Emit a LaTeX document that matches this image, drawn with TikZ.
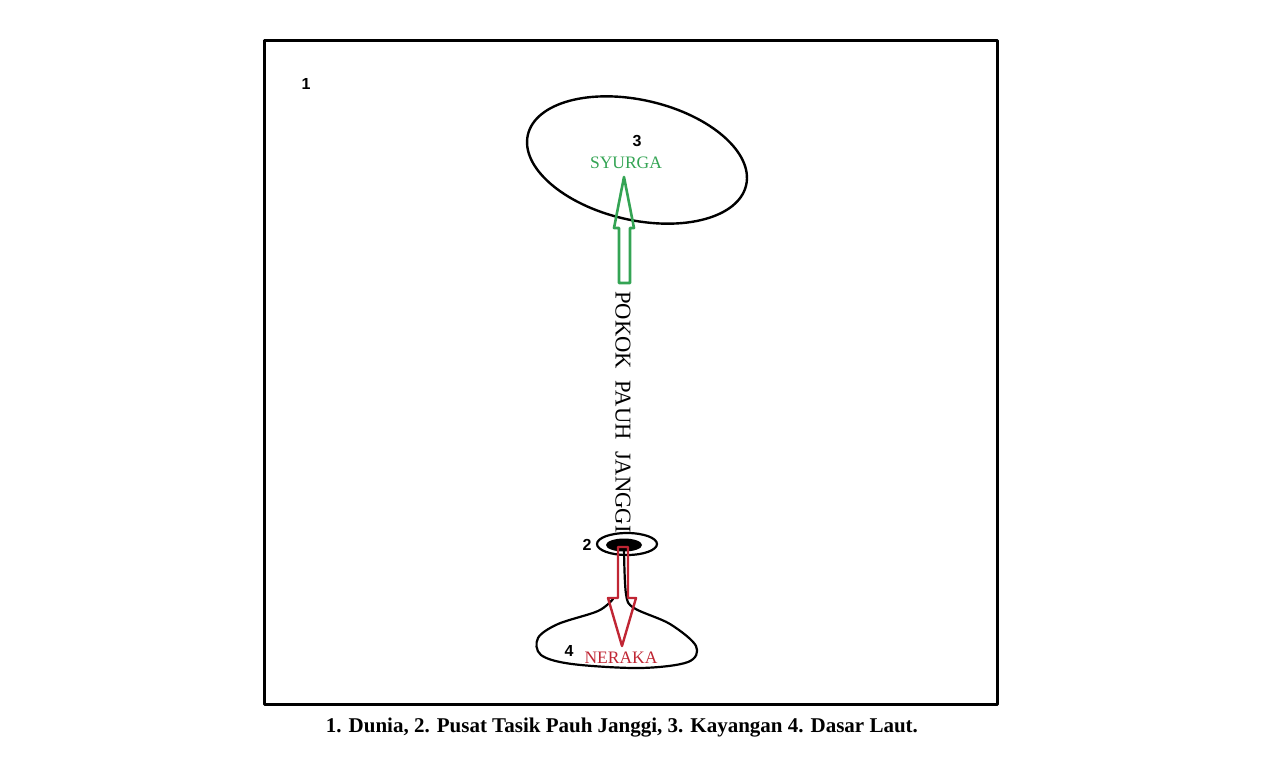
\documentclass[tikz,border=0pt]{standalone}
\usepackage{fontspec}
\setmainfont{Liberation Serif}
\newfontfamily\numfont{Liberation Sans}
\definecolor{syurgagreen}{RGB}{52,164,84}
\definecolor{nerakared}{RGB}{192,38,52}
\begin{document}
\begin{tikzpicture}[x=1pt,y=-1pt,line join=round,line cap=round,
	num/.style={font=\numfont\bfseries\fontsize{16}{18}\selectfont},
	lbl/.style={font=\fontsize{17.5}{20}\selectfont}]
	\useasboundingbox (0,0) rectangle (1274,772);
	\draw[line width=3] (264,40) rectangle (997,704);
	% kayangan, pusat tasik, dasar laut
	\draw[line width=2.4,rotate around={-13:(637,160)}] (637,160) ellipse [x radius=112,y radius=60];
	\draw[line width=2.2] (627,544) ellipse [x radius=30,y radius=11];
	\fill (624,545) ellipse [x radius=18,y radius=6.5];
	\draw[line width=2.2,smooth,tension=0.55] plot coordinates {(624,550) (626,594) (634,608) (670,624) (696,646) (688,662) (640,668) (572,664) (541,655) (538,638) (558,624) (598,611) (613,599)};
	% anak panah
	\draw[syurgagreen,line width=2.6] (624,177)--(634,228)--(630,228)--(630,283)--(619,283)--(619,228)--(614,228)--cycle;
	\draw[nerakared,line width=2.4] (618,547)--(628,547)--(628,598)--(636,598)--(622,646)--(608,598)--(618,598)--cycle;
	% teks
	\node[num] (n1) at (306,84) {1};
	\node[num] (n3) at (637,141) {3};
	\node[num] (n2) at (587,545) {2};
	\node[num] (n4) at (569,651) {4};
	\node[lbl,text=syurgagreen] (syurga) at (626,163) {SYURGA};
	\node[lbl,text=nerakared] (neraka) at (621,658) {NERAKA};
	\node[font=\fontsize{22.6}{25}\selectfont,rotate=-90] (pokok) at (623,412) {POKOK\ \ PAUH\ \ JANGGI};
	\node[font=\bfseries\fontsize{21}{24}\selectfont] (caption) at (622,728) {1. Dunia, 2. Pusat Tasik Pauh Janggi, 3. Kayangan 4. Dasar Laut.};
\end{tikzpicture}
\end{document}
